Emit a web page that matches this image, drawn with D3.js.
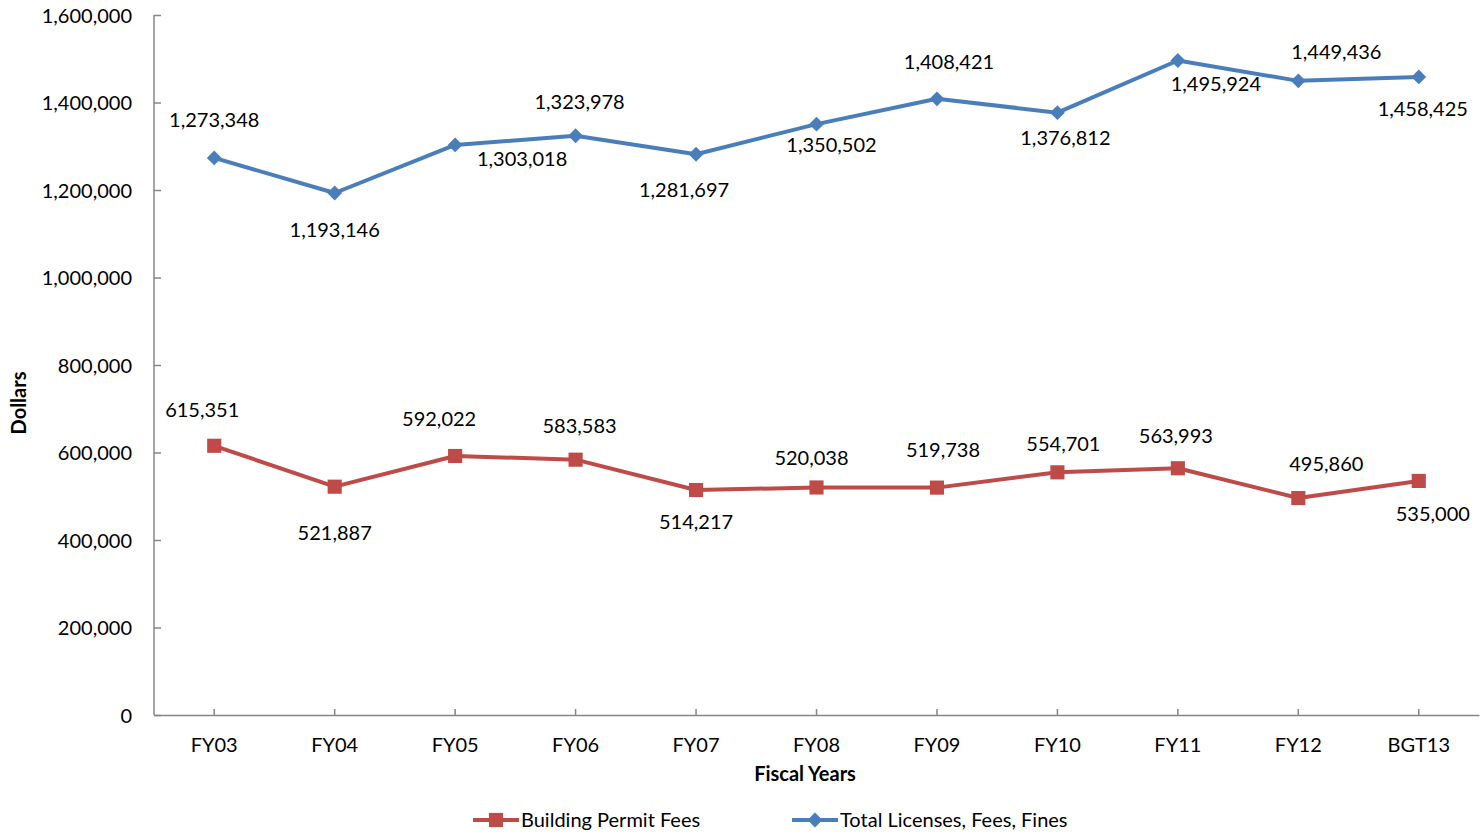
<!DOCTYPE html>
<html>
<head>
<meta charset="utf-8">
<script src="https://cdn.jsdelivr.net/npm/d3@7"></script>
<style>
  body { margin: 0; background: #fff; }
  svg text { font-family: Lato, "Open Sans", sans-serif; fill: #000; }
</style>
</head>
<body>
<svg id="chart"></svg>
<script>
// ---- data ----
const years = ["FY03","FY04","FY05","FY06","FY07","FY08","FY09","FY10","FY11","FY12","BGT13"];
const totalLicenses = [1273348,1193146,1303018,1323978,1281697,1350502,1408421,1376812,1495924,1449436,1458425];
const buildingPermits = [615351,521887,592022,583583,514217,520038,519738,554701,563993,495860,535000];
const yTicks = [0,200000,400000,600000,800000,1000000,1200000,1400000,1600000];

// label offsets (layout only): [dx, dy] relative to the point
const totalLabelOff = [[0,-38],[0,37],[67,14],[4,-34],[-12,36],[15,21],[12,-37],[8,25],[38,23],[38,-29],[4,32]];
const permitLabelOff = [[-12,-36],[0,46],[-16,-37],[4,-34],[0,32],[-5,-29],[6,-38],[6,-28],[-2,-32],[28,-34],[14,33]];

const width = 1483, height = 838;
const m = { left: 154, right: 4, top: 15, bottom: 123 };
const fs = 20;
const svg = d3.select("#chart").attr("width", width).attr("height", height);

const x = d3.scaleBand().domain(years).range([m.left, width - m.right]);
const y = d3.scaleLinear().domain([0, 1600000]).range([height - m.bottom, m.top]);
const cx = d => x(d) + x.bandwidth() / 2;

const blue = "#4a7ebb", red = "#be4b48", axisCol = "#868686";

// axes
const yAxis = svg.append("g").attr("transform", `translate(${m.left},0)`)
  .call(d3.axisLeft(y).tickValues(yTicks).tickSize(-7).tickPadding(22).tickFormat(d3.format(",")));
yAxis.selectAll("text").attr("font-size", fs).attr("dy", "0.35em");

const xAxis = svg.append("g").attr("transform", `translate(0,${height - m.bottom})`)
  .call(d3.axisBottom(x).tickSize(-6).tickPadding(30).tickSizeOuter(0));
xAxis.selectAll("text").attr("font-size", fs).attr("dy", "0.35em");

[yAxis, xAxis].forEach(a => {
  a.select(".domain").attr("stroke", axisCol).attr("stroke-width", 1.5);
  a.selectAll(".tick line").attr("stroke", axisCol).attr("stroke-width", 1.5);
});
yAxis.select(".domain").attr("d", `M0,${m.top}V${height - m.bottom}`);

// axis titles
svg.append("text").attr("transform", `translate(26,403) rotate(-90)`)
  .attr("text-anchor", "middle").attr("font-size", fs).attr("font-weight", "bold").text("Dollars");
svg.append("text").attr("x", 805).attr("y", 781)
  .attr("text-anchor", "middle").attr("font-size", fs).attr("font-weight", "bold").text("Fiscal Years");

const line = d3.line().x((d, i) => cx(years[i])).y(d => y(d));

// marker: square, or square turned 45deg for the diamond
const marker = shape => shape === "square"
  ? d3.symbol().type(d3.symbolSquare).size(200)()
  : d3.symbol().type(d3.symbolSquare).size(110)();
const rot = shape => shape === "square" ? "" : " rotate(45)";

function drawSeries(vals, color, shape, offs) {
  const g = svg.append("g");
  g.append("path").datum(vals).attr("d", line)
    .attr("fill", "none").attr("stroke", color).attr("stroke-width", 4).attr("stroke-linejoin", "round");
  g.selectAll("path.mk").data(vals).join("path").attr("class", "mk")
    .attr("d", marker(shape))
    .attr("transform", (d, i) => `translate(${cx(years[i])},${y(d)})` + rot(shape))
    .attr("fill", color);
  g.selectAll("text").data(vals).join("text")
    .attr("x", (d, i) => cx(years[i]) + offs[i][0])
    .attr("y", (d, i) => y(d) + offs[i][1])
    .attr("dy", "0.35em").attr("text-anchor", "middle").attr("font-size", fs)
    .text(d => d3.format(",")(d));
}
drawSeries(totalLicenses, blue, "diamond", totalLabelOff);
drawSeries(buildingPermits, red, "square", permitLabelOff);

// legend
const legend = [
  { name: "Building Permit Fees", color: red, shape: "square", x: 473 },
  { name: "Total Licenses, Fees, Fines", color: blue, shape: "diamond", x: 792 }
];
const lg = svg.append("g").selectAll("g").data(legend).join("g")
  .attr("transform", d => `translate(${d.x},820)`);
lg.append("line").attr("x1", 0).attr("x2", 46).attr("stroke", d => d.color).attr("stroke-width", 4);
lg.append("path").attr("transform", d => "translate(23,0)" + rot(d.shape))
  .attr("d", d => marker(d.shape))
  .attr("fill", d => d.color);
lg.append("text").attr("x", 48).attr("dy", "0.35em").attr("font-size", fs).text(d => d.name);
</script>
</body>
</html>
